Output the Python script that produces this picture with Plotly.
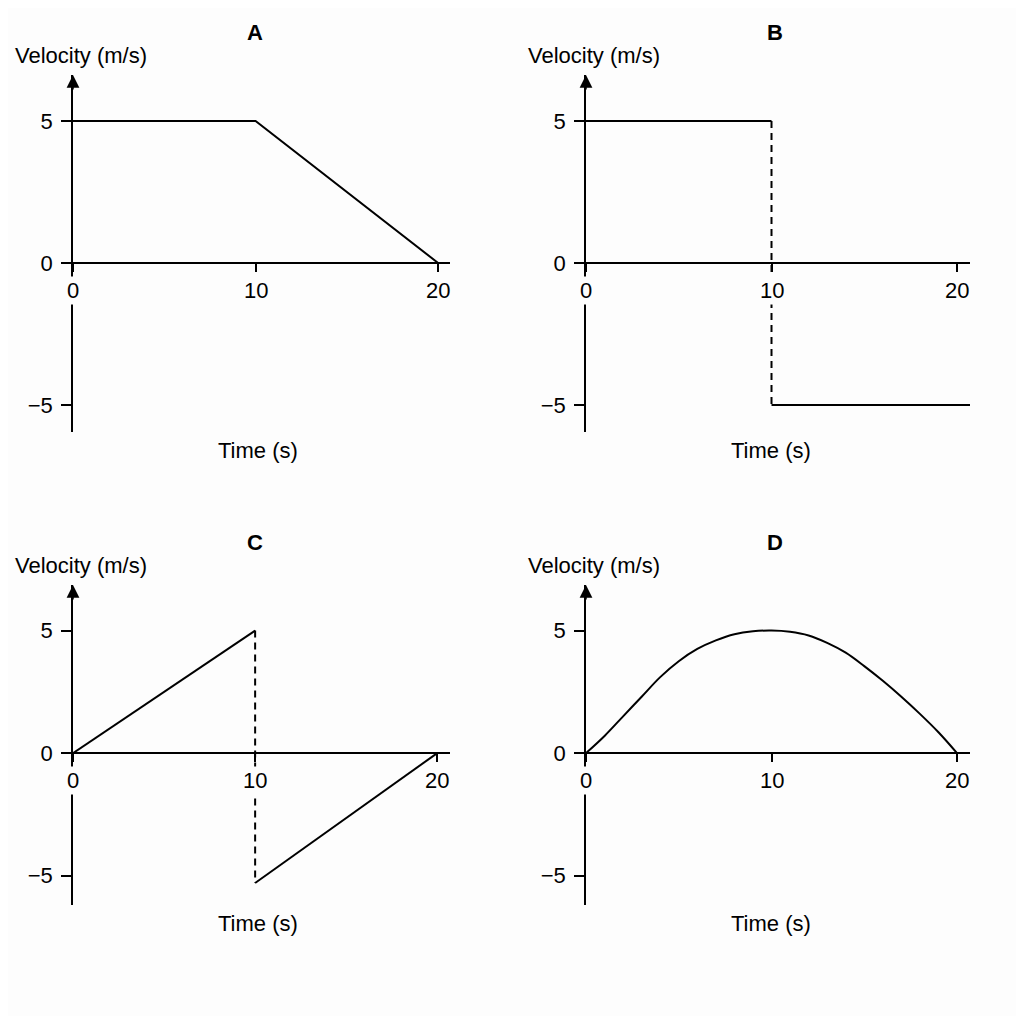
import plotly.graph_objects as go

# ---- data ----
# A: constant then linear decrease
a_t = [0, 10, 20]
a_v = [5, 5, 0]

# B: constant +5, jump, constant -5
b_t_high = [0, 10]
b_v_high = [5, 5]
b_t_jump = [10, 10]
b_v_jump = [5, -5]
b_t_low = [10, 20.7]
b_v_low = [-5, -5]

# C: ramp up, jump, ramp up again
c_t_up1 = [0, 10]
c_v_up1 = [0, 5]
c_t_jump = [10, 10]
c_v_jump = [5, -5.3]
c_t_up2 = [10, 20]
c_v_up2 = [-5.3, 0]

# D: smooth hump
d_t = [0, 1, 2, 3, 4, 5, 6, 7, 8, 9, 10, 11, 12, 13, 14, 15, 16, 17, 18, 19, 20]
d_v = [0, 0.7, 1.5, 2.3, 3.1, 3.75, 4.25, 4.6, 4.85, 4.97, 5.0,
       4.95, 4.8, 4.5, 4.1, 3.55, 2.95, 2.3, 1.6, 0.85, 0]

panel_names = ["A", "B", "C", "D"]
x_ticks = [0, 10, 20]
x_ticktext = ["0", "10", "20"]
y_ticks = [-5, 0, 5]
y_ticktext = ["\u22125", "0", "5"]

FONT = "Liberation Sans, Arial"
FS = 22
BG = "#fdfdfd"
OFF = 8          # page body margin in the browser
SIZE = 1024 - 2 * OFF

def px(v):
    return (v - OFF) / SIZE

# pixel layout of each panel: left, right, top, bottom, xmax, ymin, ymax
panels = [
    dict(l=73, r=450, t=75, b=432, xmax=20.65, ymin=-5.95, ymax=6.62),
    dict(l=586, r=970, t=75, b=432, xmax=20.7, ymin=-5.95, ymax=6.62),
    dict(l=73, r=450, t=585, b=905, xmax=20.7, ymin=-6.2, ymax=6.86),
    dict(l=586, r=970, t=585, b=905, xmax=20.7, ymin=-6.2, ymax=6.86),
]

fig = go.Figure()

line = dict(color="black", width=2)
dash = dict(color="black", width=2, dash="7px,5px")

traces = [
    [(a_t, a_v, line)],
    [(b_t_high, b_v_high, line), (b_t_jump, b_v_jump, dash), (b_t_low, b_v_low, line)],
    [(c_t_up1, c_v_up1, line), (c_t_jump, c_v_jump, dash), (c_t_up2, c_v_up2, line)],
    [(d_t, d_v, line)],
]

layout = {}
annotations = []
for i, p in enumerate(panels):
    n = "" if i == 0 else str(i + 1)
    xa, ya = "x" + n, "y" + n
    for t, v, ln in traces[i]:
        fig.add_trace(go.Scatter(x=t, y=v, mode="lines", line=ln,
                                 line_shape="spline" if i == 3 else "linear",
                                 xaxis=xa, yaxis=ya, showlegend=False,
                                 cliponaxis=False))
    y0 = 1 - px(p["b"])
    y1 = 1 - px(p["t"])
    zero_pos = y0 + (0 - p["ymin"]) / (p["ymax"] - p["ymin"]) * (y1 - y0)
    layout["xaxis" + n] = dict(
        domain=[px(p["l"]), px(p["r"])], range=[0, p["xmax"]],
        anchor="free", position=zero_pos,
        showline=True, linecolor="black", linewidth=1.5,
        showgrid=False, zeroline=False,
        ticks="outside", ticklen=8, tickwidth=1.5, tickcolor="black",
        tickvals=x_ticks, ticktext=["" for _ in x_ticks],
    )
    layout["yaxis" + n] = dict(
        domain=[y0, y1], range=[p["ymin"], p["ymax"]], anchor=xa,
        showline=True, linecolor="black", linewidth=1.5,
        showgrid=False, zeroline=False,
        ticks="outside", ticklen=10, tickwidth=1.5, tickcolor="black",
        tickvals=y_ticks, ticktext=y_ticktext,
        tickfont=dict(family=FONT, size=FS, color="black"),
        ticklabelstandoff=4,
    )
    # arrow head on the velocity axis
    annotations.append(dict(x=0, y=p["ymax"], xref=xa, yref=ya, text="",
                            showarrow=True, ax=0, ay=16, arrowhead=2,
                            arrowsize=1.7, arrowwidth=1.5, arrowcolor="black"))
    # time tick labels, masking the lines that pass behind them
    for tv, tt in zip(x_ticks, x_ticktext):
        annotations.append(dict(x=tv, y=0, xref=xa, yref=ya, text=tt,
                                showarrow=False, xanchor="center", yanchor="top",
                                yshift=-13, bgcolor=BG, borderpad=1,
                                font=dict(family=FONT, size=FS, color="black")))
    # panel letter
    annotations.append(dict(x=px(p["l"] + 182 if i % 2 == 0 else p["l"] + 189),
                            y=1 - px(p["t"] - 43), xref="paper", yref="paper",
                            xanchor="center", yanchor="middle",
                            text="<b>" + panel_names[i] + "</b>", showarrow=False,
                            font=dict(family=FONT, size=22, color="black")))
    # y label
    annotations.append(dict(x=px(p["l"] + 8), y=1 - px(p["t"] - 20),
                            xref="paper", yref="paper", text="Velocity (m/s)",
                            xanchor="center", yanchor="middle", showarrow=False,
                            font=dict(family=FONT, size=FS, color="black")))
    # x label
    annotations.append(dict(x=px(p["l"] + 185), y=1 - px(p["b"] + 18),
                            xref="paper", yref="paper", text="Time (s)",
                            xanchor="center", yanchor="middle", showarrow=False,
                            font=dict(family=FONT, size=FS, color="black")))

fig.update_layout(
    width=SIZE, height=SIZE,
    margin=dict(l=0, r=0, t=0, b=0),
    paper_bgcolor=BG, plot_bgcolor=BG,
    annotations=annotations,
    **layout,
)

fig.write_html("out.html")
